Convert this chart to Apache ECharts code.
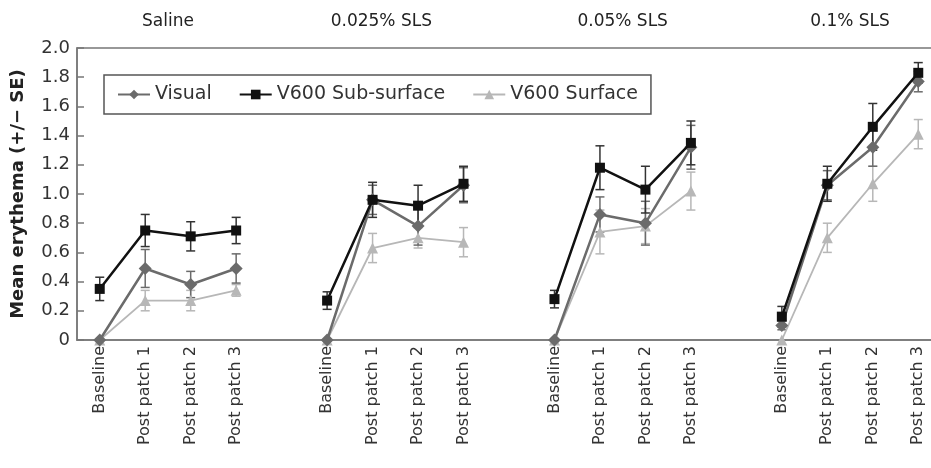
<!DOCTYPE html>
<html>
<head>
<meta charset="utf-8">
<script src="https://cdn.jsdelivr.net/npm/echarts@6/dist/echarts.min.js"></script>
<style>
  html, body { margin: 0; padding: 0; background: #fff; overflow: hidden; }
  #chart { width: 941px; height: 468px; }
</style>
</head>
<body>
<div id="chart"></div>
<script>
// Treatment groups and time points
const groups = ['Saline', '0.025% SLS', '0.05% SLS', '0.1% SLS'];
const timepoints = ['Baseline', 'Post patch 1', 'Post patch 2', 'Post patch 3'];

// Mean erythema per group (rows) and time point (columns), with standard errors
const visual      = [[0, 0.49, 0.38, 0.49], [0, 0.96, 0.78, 1.06], [0, 0.86, 0.80, 1.32], [0.10, 1.06, 1.32, 1.77]];
const visualSE    = [[0, 0.13, 0.09, 0.10], [0, 0.10, 0.13, 0.12], [0, 0.12, 0.15, 0.15], [0.03, 0.10, 0.13, 0.07]];
const subsurface  = [[0.35, 0.75, 0.71, 0.75], [0.27, 0.96, 0.92, 1.07], [0.28, 1.18, 1.03, 1.35], [0.16, 1.07, 1.46, 1.83]];
const subsurfaceSE= [[0.08, 0.11, 0.10, 0.09], [0.06, 0.12, 0.14, 0.12], [0.06, 0.15, 0.16, 0.15], [0.07, 0.12, 0.16, 0.07]];
const surface     = [[0, 0.27, 0.27, 0.34], [0, 0.63, 0.70, 0.67], [0, 0.74, 0.78, 1.02], [0, 0.70, 1.07, 1.41]];
const surfaceSE   = [[0, 0.07, 0.07, 0.04], [0, 0.10, 0.07, 0.10], [0, 0.15, 0.12, 0.13], [0, 0.10, 0.12, 0.10]];

// Y-axis ticks
const yTicks = ['0', '0.2', '0.4', '0.6', '0.8', '1.0', '1.2', '1.4', '1.6', '1.8', '2.0'];

const FONT = '"DejaVu Sans", "Liberation Sans", Arial, sans-serif';

// Category axis: four time points per group, one blank slot between groups
const categories = [];
const groupStart = [];
groups.forEach((g, gi) => {
  groupStart.push(categories.length);
  timepoints.forEach(t => categories.push(t));
  if (gi < groups.length - 1) categories.push('');
});

function lineData(values) {
  const out = categories.map(() => null);
  values.forEach((row, gi) => row.forEach((v, ti) => { out[groupStart[gi] + ti] = v; }));
  return out;
}
function errData(values, se) {
  const out = [];
  values.forEach((row, gi) => row.forEach((v, ti) => {
    if (se[gi][ti] > 0) out.push([groupStart[gi] + ti, v - se[gi][ti], v + se[gi][ti]]);
  }));
  return out;
}

function errorSeries(name, values, se, color, width) {
  return {
    type: 'custom',
    name: name + ' SE',
    z: 3,
    silent: true,
    data: errData(values, se),
    renderItem: function (params, api) {
      const x = api.value(0);
      const lo = api.coord([x, api.value(1)]);
      const hi = api.coord([x, api.value(2)]);
      const cap = 4.5;
      const style = { stroke: color, lineWidth: width, fill: null };
      return {
        type: 'group',
        children: [
          { type: 'line', shape: { x1: hi[0], y1: hi[1], x2: lo[0], y2: lo[1] }, style: style },
          { type: 'line', shape: { x1: hi[0] - cap, y1: hi[1], x2: hi[0] + cap, y2: hi[1] }, style: style },
          { type: 'line', shape: { x1: lo[0] - cap, y1: lo[1], x2: lo[0] + cap, y2: lo[1] }, style: style }
        ]
      };
    }
  };
}

const C_VIS = '#6b6b6b', C_SUB = '#111111', C_SUR = '#b7b7b7';

const chart = echarts.init(document.getElementById('chart'), null, { renderer: 'canvas' });

const option = {
  animation: false,
  backgroundColor: '#fff',
  grid: {
    left: 77, top: 48, bottom: 128, right: 0,
    show: true, borderColor: '#777', borderWidth: 1.5, backgroundColor: 'transparent'
  },
  legend: {
    data: ['Visual', 'V600 Sub-surface', 'V600 Surface'],
    left: 104, top: 75,
    padding: [9, 13, 9, 13],
    itemGap: 27, itemWidth: 32, itemHeight: 12,
    borderColor: '#555', borderWidth: 1.5,
    textStyle: { fontFamily: FONT, fontSize: 19, color: '#333', lineHeight: 21 }
  },
  xAxis: {
    type: 'category',
    data: categories,
    boundaryGap: true,
    axisLine: { lineStyle: { color: '#777', width: 1.5 } },
    axisTick: { inside: true, length: 6, interval: 0, lineStyle: { color: '#777', width: 1.5 } },
    axisLabel: {
      interval: 0, rotate: 90, margin: 6,
      fontFamily: FONT, fontSize: 16, color: '#333'
    }
  },
  yAxis: {
    type: 'value',
    min: 0, max: 2, interval: 0.2,
    name: 'Mean erythema (+/\u2212 SE)',
    nameLocation: 'middle', nameRotate: 90, nameGap: 50,
    nameTextStyle: { fontFamily: FONT, fontSize: 18, fontWeight: 'bold', color: '#222' },
    splitLine: { show: false },
    axisLine: { show: true, lineStyle: { color: '#777', width: 1.5 } },
    axisTick: { show: true, inside: true, length: 7, lineStyle: { color: '#777', width: 1.5 } },
    axisLabel: {
      margin: 7, fontFamily: FONT, fontSize: 18, color: '#333',
      formatter: function (v) { return yTicks[Math.round(v / 0.2)]; }
    }
  },
  series: [
    errorSeries('V600 Surface', surface, surfaceSE, C_SUR, 1.5),
    errorSeries('Visual', visual, visualSE, C_VIS, 1.5),
    errorSeries('V600 Sub-surface', subsurface, subsurfaceSE, '#333', 1.5),
    {
      name: 'V600 Surface', type: 'line', data: lineData(surface), connectNulls: false,
      symbol: 'triangle', symbolSize: 11, z: 4,
      itemStyle: { color: C_SUR }, lineStyle: { color: C_SUR, width: 1.8 }
    },
    {
      name: 'Visual', type: 'line', data: lineData(visual), connectNulls: false,
      symbol: 'diamond', symbolSize: 13, z: 5,
      itemStyle: { color: C_VIS }, lineStyle: { color: C_VIS, width: 2.5 }
    },
    {
      name: 'V600 Sub-surface', type: 'line', data: lineData(subsurface), connectNulls: false,
      symbol: 'rect', symbolSize: 10, z: 6,
      itemStyle: { color: C_SUB }, lineStyle: { color: C_SUB, width: 2.5 }
    }
  ]
};
chart.setOption(option);

// Group titles above each block of four time points (second one sits a little left of centre)
const titleShift = [0, -14, 0, 0];
const titles = groups.map((g, gi) => {
  const x0 = chart.convertToPixel({ xAxisIndex: 0 }, groupStart[gi]);
  const x1 = chart.convertToPixel({ xAxisIndex: 0 }, groupStart[gi] + 3);
  return {
    type: 'text',
    x: (x0 + x1) / 2 + titleShift[gi], y: 22,
    style: {
      text: g, fontFamily: FONT, fontSize: 17, fill: '#222',
      align: 'center', verticalAlign: 'middle'
    }
  };
});
chart.setOption({ graphic: titles });
</script>
</body>
</html>
